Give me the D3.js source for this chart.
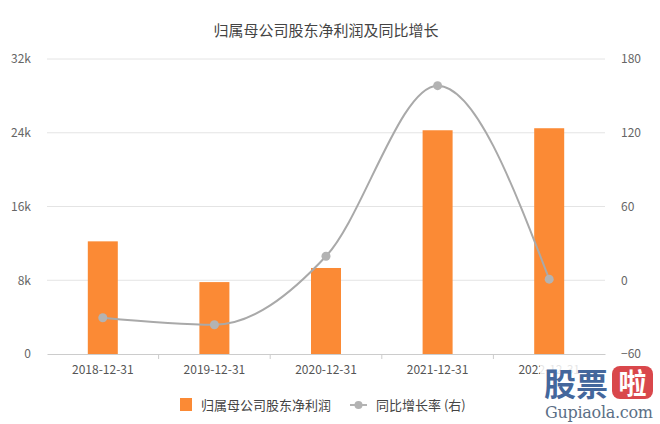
<!DOCTYPE html>
<html><head><meta charset="utf-8">
<script src="https://cdn.jsdelivr.net/npm/d3@7"></script>
<style>body{margin:0;background:#fff}svg{display:block}</style>
</head><body>
<svg id="c" width="660" height="424"></svg>
<script>
const categories = ["2018-12-31","2019-12-31","2020-12-31","2021-12-31","2022-12-31"];
const profit = [12220, 7800, 9330, 24270, 24490];
const growth = [-30.5, -36.2, 19.5, 158.3, 0.9];
const leftTicks = [0, 8000, 16000, 24000, 32000];
const rightTicks = [-60, 0, 60, 120, 180];
const title = "归属母公司股东净利润及同比增长";
const legendNames = ["归属母公司股东净利润", "同比增长率 (右)"];

const svg = d3.select("#c");
const font = "'Noto Sans CJK SC','Noto Sans',sans-serif";
const L = 47, R = 605, T = 59, B = 354;

const x = d3.scaleBand().domain(categories).range([L, R]).paddingInner(0).paddingOuter(0);
const yL = d3.scaleLinear().domain([0, 32000]).range([B, T]);
const yR = d3.scaleLinear().domain([-60, 180]).range([B, T]);

svg.append("text").attr("x", 326).attr("y", 36).attr("text-anchor", "middle")
  .attr("font-family", font).attr("font-size", 15).attr("fill", "#444").text(title);

// grid
svg.append("g").selectAll("line").data(leftTicks.slice(1)).join("line")
  .attr("x1", L).attr("x2", R).attr("y1", d => yL(d)).attr("y2", d => yL(d))
  .attr("stroke", "#e4e4e4").attr("stroke-width", 1);

// left axis
const gl = svg.append("g").attr("transform", `translate(${L},0)`)
  .call(d3.axisLeft(yL).tickValues(leftTicks).tickSize(0).tickPadding(16)
    .tickFormat(d => d === 0 ? "0" : (d / 1000) + "k"));
gl.select(".domain").remove();
gl.selectAll("text").attr("font-family", font).attr("font-size", 12).attr("fill", "#666");

// right axis
const gr = svg.append("g").attr("transform", `translate(${R},0)`)
  .call(d3.axisRight(yR).tickValues(rightTicks).tickSize(0).tickPadding(16));
gr.select(".domain").remove();
gr.selectAll("text").attr("font-family", font).attr("font-size", 12).attr("fill", "#666");

// x axis
const gx = svg.append("g").attr("transform", `translate(0,${B})`)
  .call(d3.axisBottom(x).tickSize(0).tickPadding(11));
gx.select(".domain").attr("stroke", "#ccc");
gx.selectAll("text").attr("font-family", font).attr("font-size", 12).attr("fill", "#555");
svg.append("g").selectAll("line").data(categories.slice(1)).join("line")
  .attr("x1", d => x(d)).attr("x2", d => x(d)).attr("y1", B).attr("y2", B + 5)
  .attr("stroke", "#ccc");

// bars
const bw = 30;
svg.append("g").selectAll("rect").data(profit).join("rect")
  .attr("x", (d, i) => x(categories[i]) + x.bandwidth() / 2 - bw / 2)
  .attr("width", bw)
  .attr("y", d => yL(d)).attr("height", d => B - yL(d))
  .attr("fill", "#fb8a35");

// line
const cx = (d, i) => x(categories[i]) + x.bandwidth() / 2;
const line = d3.line().x(cx).y(d => yR(d)).curve(d3.curveMonotoneX);
svg.append("path").datum(growth).attr("d", line).attr("fill", "none")
  .attr("stroke", "#a9a9a9").attr("stroke-width", 2);
svg.append("g").selectAll("circle").data(growth).join("circle")
  .attr("cx", cx).attr("cy", d => yR(d)).attr("r", 4.5).attr("fill", "#b3b3b3");

// legend
const lg = svg.append("g").attr("font-family", font).attr("font-size", 13).attr("fill", "#444");
lg.append("rect").attr("x", 180).attr("y", 398).attr("width", 12).attr("height", 13).attr("fill", "#fb8a35");
lg.append("text").attr("x", 201).attr("y", 410).text(legendNames[0]);
lg.append("line").attr("x1", 350).attr("x2", 367).attr("y1", 405).attr("y2", 405).attr("stroke", "#b3b3b3").attr("stroke-width", 2);
lg.append("circle").attr("cx", 358.5).attr("cy", 405).attr("r", 4).attr("fill", "#b3b3b3");
lg.append("text").attr("x", 376).attr("y", 410).text(legendNames[1]);

// watermark
const wm = svg.append("g").attr("font-family", font);
wm.append("rect").attr("x", 540).attr("y", 364).attr("width", 117).attr("height", 58).attr("fill", "#fff").attr("opacity", 0.85);
wm.append("text").attr("x", 544).attr("y", 396).attr("font-size", 32).attr("font-weight", "bold")
  .attr("fill", "#44679c").text("股票");
wm.append("rect").attr("x", 612).attr("y", 366).attr("width", 41).attr("height", 33).attr("rx", 8)
  .attr("fill", "#d9474b");
wm.append("text").attr("x", 632.5).attr("y", 394).attr("text-anchor", "middle").attr("font-size", 28)
  .attr("font-weight", "bold").attr("fill", "#fff").text("啦");
wm.append("text").attr("x", 599).attr("y", 418).attr("text-anchor", "middle").attr("font-size", 16)
  .attr("font-family", "'DejaVu Serif',serif").attr("textLength", 108).attr("fill", "#5b6f86").text("Gupiaola.com");
</script>
</body></html>
